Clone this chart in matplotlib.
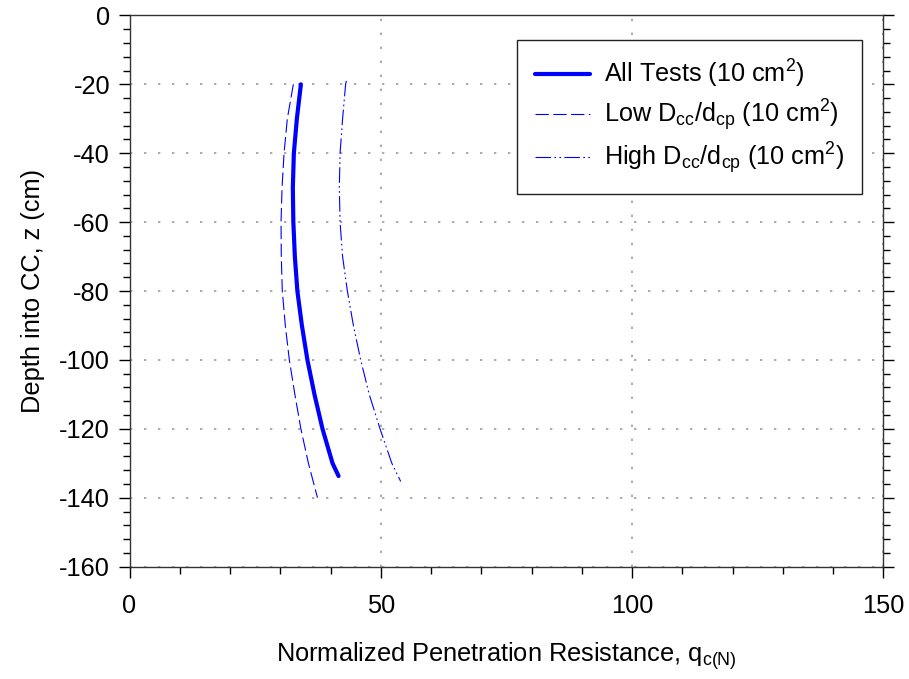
import matplotlib
matplotlib.use('Agg')
import matplotlib.pyplot as plt
from matplotlib.ticker import MultipleLocator

plt.rcParams['font.family'] = ['Liberation Sans', 'DejaVu Sans']
plt.rcParams['mathtext.default'] = 'regular'
plt.rcParams['axes.unicode_minus'] = False

# depth z (cm) and normalized resistance q_c(N)
z_all = [-20, -30, -40, -50, -60, -70, -80, -90, -100, -110, -120, -130, -133.7]
q_all = [34.1, 33.3, 32.7, 32.5, 32.6, 32.9, 33.4, 34.3, 35.4, 36.8, 38.4, 40.4, 41.6]

z_low = [-20, -30, -40, -50, -60, -70, -80, -90, -100, -110, -120, -130, -140]
q_low = [32.6, 31.4, 30.75, 30.35, 30.15, 30.2, 30.4, 31.0, 31.8, 32.9, 34.1, 35.6, 37.4]

z_high = [-19, -20, -30, -40, -50, -60, -70, -80, -90, -100, -110, -120, -130, -135.3]
q_high = [43.15, 43.0, 42.4, 41.9, 41.75, 41.9, 42.4, 43.35, 44.55, 46.0, 47.7, 49.85, 52.2, 53.97]

labels = ['All Tests (10 cm$^2$)',
          'Low D$_{cc}$/d$_{cp}$ (10 cm$^2$)',
          'High D$_{cc}$/d$_{cp}$ (10 cm$^2$)']

fig = plt.figure(figsize=(9.09, 6.79), dpi=100)
ax = fig.add_axes([0.1425, 0.1655, 0.8292, 0.8118])

blue = '#0000ff'
ax.plot(q_all, z_all, color=blue, lw=3.0, solid_capstyle='round',
        solid_joinstyle='round', label=labels[0])
ax.plot(q_low, z_low, color=blue, lw=0.8, ls=(0, (12, 4)), label=labels[1])
ax.plot(q_high, z_high, color=blue, lw=0.8, ls=(0, (14, 3, 1.5, 3, 1.5, 3)), label=labels[2])

ax.set_xlim(0, 150)
ax.set_ylim(-160, 0)
ax.xaxis.set_major_locator(MultipleLocator(50))
ax.xaxis.set_minor_locator(MultipleLocator(10))
ax.yaxis.set_major_locator(MultipleLocator(20))
ax.yaxis.set_minor_locator(MultipleLocator(4))
ax.tick_params(which='both', direction='out', labelsize=18.3, colors='black',
               right=True, top=False, labelright=False)
ax.tick_params(which='major', length=8, width=1, pad=12)
ax.tick_params(which='minor', length=5, width=1)
ax.tick_params(axis='y', which='major', pad=6)

for s in ax.spines.values():
    s.set_color('#333333')
    s.set_linewidth(1)

ax.grid(True, which='major', color='#aaaaaa', ls=(0, (1.2, 6)), lw=1.4)

ax.set_xlabel('Normalized Penetration Resistance, q$_{c(N)}$', fontsize=18.3, labelpad=16)
ax.set_ylabel('Depth into CC, z (cm)', fontsize=18.3, labelpad=10)

leg = ax.legend(loc='upper right', bbox_to_anchor=(0.972, 0.955), fontsize=18.2,
                fancybox=False, framealpha=1, edgecolor='#222222',
                handlelength=2.2, borderpad=0.7, labelspacing=0.28, handletextpad=0.55,
                borderaxespad=0)
leg.get_frame().set_linewidth(1)

fig.savefig('out.png', dpi=100)
